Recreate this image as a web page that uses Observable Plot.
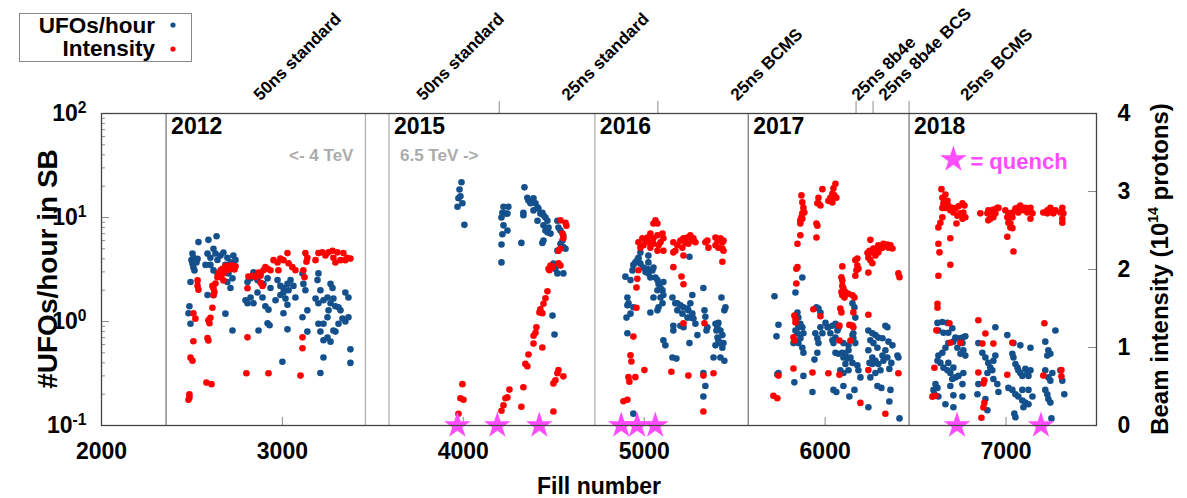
<!DOCTYPE html>
<html><head><meta charset="utf-8">
<script src="https://cdn.jsdelivr.net/npm/d3@7"></script>
<script src="https://cdn.jsdelivr.net/npm/@observablehq/plot@0.6"></script>
<style>html,body{margin:0;padding:0;background:#fff;} svg{display:block;}</style>
</head><body><div id="chart"></div>
<script>
// ---------------- data ----------------
const xTicks = [2000, 3000, 4000, 5000, 6000, 7000];
const yMajor = [0.1, 1, 10, 100];
const intTicks = [0, 1, 2, 3, 4];
const years = ["2012", "2015", "2016", "2017", "2018"];
const yearStart = [2357, 3589, 4727, 5575, 6464];
const yearLinesDark = [2357, 5575, 6464];
const yearLinesLight = [3459, 3589, 4727];
const beamChanges = [4199, 5075, 6171, 6265, 6464];
const beamNames = ["50ns standard", "50ns standard", "25ns standard", "25ns BCMS", "25ns 8b4e", "25ns 8b4e BCS", "25ns BCMS"];
const beamLabelFill = [2879, 3780, 4581, 5515, 6184, 6333, 6786];
const quenchFills = [3967, 4188, 4420, 4873, 4961, 5061, 6729, 7193];

// UFOs/hour [fill, rate]
const ufo2012 = [[2536,5.8],[2591,6.1],[2636,6.6],[2503,4.5],[2508,4.1],[2497,3.9],[2503,3.6],[2508,3.3],[2531,4.0],[2514,3.1],[2525,3.7],
[2586,4.5],[2602,4.1],[2619,5.0],[2630,4.5],[2641,3.9],[2658,4.3],[2674,4.6],[2696,4.1],[2713,3.7],[2729,4.3],[2741,3.9],[2602,3.5],[2619,3.1],[2641,2.9],[2575,3.5],[2685,3.5],[2702,2.9],[2724,2.6],[2713,2.1],[2696,2.4],[2586,1.8],[2619,1.8],[2492,2.4],[2486,1.4],[2481,1.2],[2492,0.95],[2685,1.19],[2724,0.82],
[2807,2.4],[2824,2.6],[2840,2.97],[2862,2.5],[2879,2.9],[2895,2.3],[2918,2.6],[2934,2.1],
[2796,1.6],[2807,1.5],[2824,1.7],[2840,1.5],[2862,1.9],[2890,1.7],[2906,1.4],[2923,1.3],[2962,1.6],[2918,0.96],[2929,0.92],[2868,0.82],
[2973,2.5],[2989,2.2],[3006,2.1],[3028,2.3],[3034,2.0],[3017,1.66],[3045,2.5],[3061,2.2],[3072,1.7],[3006,1.9],[2989,1.8],[3000,0.41],[3028,0.84],[3006,1.2],[3028,1.45],
[3111,2.9],[3116,2.3],[3127,2.0],[3138,1.28],[3111,1.1],[3138,0.8],
[3194,2.5],[3199,2.9],[3210,2.0],[3183,1.66],[3199,1.5],[3227,1.6],[3249,1.7],[3266,1.5],[3282,1.66],[3293,1.4],[3310,1.37],[3255,1.28],[3249,1.1],[3227,0.95],[3199,0.95],[3210,0.8],[3227,0.66],[3249,0.7],[3266,0.64],[3282,0.82],[3293,0.8],[3310,0.95],[3348,1.0],[3365,1.1],[3348,1.9],[3365,1.7],[3277,2.1],[3266,2.3],[3210,0.32],[3227,0.45],[3376,0.54],[3376,0.4],[3321,1.28],[3332,1.07]];
const ufo2015 = [[3990,21.8],[3979,18.6],[3984,16.0],[3973,15.3],[3995,13.7],[3968,12.7],[4006,8.5],
[4222,12.7],[4249,12.7],[4216,11.1],[4233,10.9],[4244,10.9],[4211,10.0],[4222,8.4],[4244,7.5],[4216,6.9],[4211,5.5],[4211,3.7],[4338,19.5],
[4354,15.5],[4360,14.6],[4371,13.7],[4382,14.0],[4388,15.3],[4399,13.7],[4410,12.5],[4388,11.7],[4415,12.2],[4426,10.9],[4437,11.1],[4443,10.5],[4454,10.0],[4465,9.3],[4443,8.4],[4454,7.5],[4465,7.2],[4471,8.0],[4482,7.0],[4437,5.7],[4443,6.0],[4410,9.3],[4332,11.1],[4332,10.5],[4321,5.7],
[4520,9.3],[4526,8.0],[4537,7.5],[4553,6.7],[4548,6.0],[4537,5.6],[4553,5.2],[4565,5.0],[4520,4.8],[4498,3.6],[4509,3.2],[4520,2.9],[4553,2.9],[4493,1.14],[4504,0.75]];
const ufo2016 = [[4896,2.7],[4924,2.5],[4935,3.1],[4940,3.5],[4951,3.7],[4962,3.9],[4968,4.1],[4979,3.6],[4996,3.3],[5007,3.0],[5018,3.2],[5023,2.9],[5034,2.65],[5045,3.1],[5051,3.3],[5062,2.65],[5073,2.5],[5079,2.3],[5090,2.1],[5101,2.0],[5106,2.4],[5073,2.0],[5051,1.7],[5090,1.7],[5101,1.5],[5106,1.8],[5079,1.37],[5073,1.28],[5034,1.22],[4979,4.6],[4968,4.0],[5023,4.3],[5023,3.7],[4907,1.7],[4913,1.5],[4907,1.43],[4924,1.19],[4902,1.09],[4907,0.77],[4940,1.37],
[5156,1.7],[5172,1.5],[5183,1.5],[5200,1.43],[5217,1.37],[5239,1.33],[5255,1.5],[5266,1.8],[5244,1.28],[5255,1.09],[5266,1.19],[5272,1.07],[5283,0.95],[5239,1.09],[5211,1.19],[5183,1.28],[5161,0.91],[5161,0.82],[5200,0.91],[5217,0.88],[5250,4.2],[5327,2.1],[5333,1.28],[5338,1.11],[5349,0.88],[5344,0.82],[5250,0.62],[5294,0.74],[5106,0.66],[5117,0.59],[5156,0.45],[5178,0.44],[5327,0.32],[5338,0.24],[5327,0.19],[4940,0.13],
[5394,0.95],[5405,0.88],[5410,0.97],[5421,0.82],[5432,0.74],[5405,0.70],[5410,0.66],[5421,0.62],[5432,0.56],[5438,0.62],[5394,0.59],[5399,0.82],[5427,1.7],[5449,1.37],[5443,1.28],[5383,0.45],[5421,0.45],[5443,0.42]];
const ufo2017 = [[5720,1.75],[5742,0.93],[5731,0.72],[5742,0.32],[5736,0.31],[5830,0.26],[5880,0.30],[5930,0.21],[5836,1.9],[5874,2.65],
[5847,1.22],[5852,1.09],[5863,0.95],[5852,0.88],[5836,0.82],[5847,0.77],[5863,0.69],[5852,0.62],[5874,0.56],[5880,0.50],[5825,0.62],[5880,0.77],[5874,0.88],[5941,0.43],
[5946,0.77],[5957,0.69],[5963,0.62],[5974,0.88],[5985,0.77],[5952,1.37],[5963,1.33],[5974,1.22],[5957,0.50],[6002,0.97],[6013,0.88],
[6018,0.88],[6029,0.77],[6040,0.66],[6046,0.62],[6057,0.70],[6068,0.82],[6040,0.91],[6057,0.95],[6073,0.86],
[6057,0.50],[6073,0.49],[6095,0.50],[6112,0.49],[6129,0.53],[6101,0.45],[6123,0.44],[6140,0.45],[6151,0.40],[6112,0.39],[6084,0.34],[6101,0.32],[6129,0.34],[6156,0.77],[6151,0.74],[6156,0.69],[6167,0.62],[6129,0.59],[6101,0.62],[6167,1.09],[6162,1.37],[6151,1.5],
[6046,0.22],[6062,0.21],[6101,0.24],[6162,0.22],[6134,0.19],[6178,0.38],[6184,0.34],[6195,0.29],
[6239,0.82],[6261,0.77],[6278,0.74],[6294,0.70],[6317,0.69],[6250,0.66],[6267,0.62],[6289,0.56],[6239,0.53],[6261,0.45],[6278,0.42],[6294,0.39],[6317,0.47],[6322,0.42],[6306,0.34],[6278,0.32],[6261,0.39],[6245,0.40],[6333,0.91],[6344,0.88],[6350,0.64],[6372,0.59],[6333,0.53],[6344,0.45],[6355,0.35],[6366,0.40],[6400,0.47],[6405,0.45],[6311,0.23],[6289,0.24],[6250,0.29],[6239,0.15],[6355,0.17],[6411,0.117],[6361,0.22]];
const ufo2018 = [[6621,0.97],[6648,0.99],[6676,0.97],[6626,0.82],[6654,0.78],[6681,0.78],[6703,0.86],[6720,0.70],[6737,0.69],[6759,0.70],[6775,0.72],[6759,0.62],[6764,0.53],[6748,0.49],[6775,0.47],[6731,0.56],[6709,0.64],[6681,0.62],
[6621,0.42],[6626,0.47],[6648,0.50],[6665,0.56],[6637,0.40],[6654,0.36],[6676,0.34],[6692,0.32],[6703,0.28],[6720,0.29],[6737,0.30],[6759,0.25],[6681,0.40],[6709,0.36],[6764,0.32],
[6610,0.25],[6621,0.23],[6599,0.22],[6604,0.20],[6626,0.19],[6665,0.16],[6709,0.15],[6692,0.24],[6709,0.195],[6759,0.19],
[6847,0.62],[6869,0.50],[6886,0.45],[6902,0.40],[6913,0.36],[6930,0.42],[6941,0.47],[6924,0.34],[6897,0.32],[6930,0.28],[6952,0.25],[6847,0.25],[6842,0.20],[6886,0.18],[6897,0.14],[6958,0.21],[6941,0.88],
[7007,0.74],[7035,0.49],[7041,0.45],[7052,0.39],[7063,0.36],[7068,0.34],[7079,0.32],[7090,0.30],[7107,0.35],[7118,0.32],[7124,0.30],[7135,0.34],[7041,0.62],[7079,0.59],[7135,0.56],[7013,0.23],[7035,0.22],[7052,0.20],[7068,0.19],[7090,0.174],[7107,0.166],[7124,0.16],[7096,0.15],[7090,0.22],[7124,0.22],[7146,0.19],[7046,0.13],[7052,0.12],
[7217,0.64],[7234,0.53],[7245,0.49],[7228,0.47],[7217,0.34],[7234,0.29],[7245,0.27],[7273,0.82],[7256,0.32],[7311,0.27],[7300,0.34],[7322,0.20],[7217,0.22],[7228,0.20],[7234,0.18],[7245,0.166],[7251,0.117]];

// Beam intensity [fill, 1e14 protons]
const int2012 = [[2486,0.36],[2481,0.33],[2486,0.4],[2492,0.87],[2503,0.83],[2508,1.08],[2586,1.12],[2591,1.09],[2591,1.35],[2597,1.31],[2602,1.38],[2508,1.44],[2519,1.37],[2531,1.86],[2531,1.79],[2536,1.74],[2613,1.51],[2619,1.76],[2624,1.71],[2619,1.67],
[2641,1.9],[2647,1.95],[2658,1.99],[2669,2.01],[2674,1.95],[2685,2.04],[2696,1.99],[2702,2.05],[2713,2.01],[2724,2.05],[2735,2.0],[2741,2.04],[2658,1.9],[2674,1.86],[2630,1.82],[2613,1.79],
[2580,0.55],[2608,0.53],[2807,1.13],[2801,0.67],[2923,0.67],[3100,0.64],[3111,1.13],[3111,0.99],[2807,1.76],
[2812,1.91],[2834,1.92],[2851,1.9],[2868,1.96],[2879,1.92],[2895,1.99],[2906,2.03],[2918,2.01],[2934,1.99],[2879,1.83],[2890,1.79],
[2951,2.12],[2973,2.09],[2978,1.99],[2989,2.14],[3006,2.12],[3028,2.21],[3034,2.08],[3055,2.03],[3072,1.99],
[3116,1.99],[3122,1.9],[3127,2.21],[3138,2.15],[3133,2.1],
[3183,2.12],[3199,2.21],[3221,2.22],[3238,2.18],[3255,2.22],[3277,2.24],[3282,2.15],[3304,2.22],[3321,2.12],[3337,2.21],[3359,2.15],[3376,2.14],[3293,2.09],[3348,2.12]];
const int2015 = [[3995,0.53],[3984,0.35],[4001,0.33],[3973,0.15],[4255,0.46],[4244,0.36],[4233,0.35],[4222,0.26],[4211,0.19],[4321,0.24],[4332,0.49],[4343,0.79],[4354,0.76],[4360,0.91],[4388,1.05],[4388,1.15],[4399,1.19],[4404,1.26],[4437,1.0],[4421,1.45],[4426,1.49],[4437,1.44],[4443,1.56],[4454,1.63],[4465,1.72],[4476,1.99],[4493,2.03],[4482,2.05],[4471,2.01],[4526,2.08],[4537,2.05],[4498,0.54],[4509,0.58],[4520,0.67],[4526,0.71],[4553,0.63],[4498,0.18],[4526,2.24],[4537,2.27],[4548,2.46],[4553,2.4],[4537,2.63],[4565,2.6],[4570,2.56]];
const int2016 = [[5062,2.63],[5051,2.59],[5073,2.59],[5034,2.46],[5018,2.41],[5051,2.4],[5073,2.44],[5101,2.46],[5106,2.4],[5090,2.35],[5079,2.31],[5051,2.33],[5023,2.35],[5007,2.37],[4996,2.31],[4979,2.28],[4990,2.4],[4968,2.35],[5034,2.28],[5073,2.24],[5106,2.24],
[5161,2.35],[5172,2.24],[5183,2.31],[5200,2.37],[5217,2.4],[5228,2.35],[5239,2.41],[5255,2.44],[5266,2.37],[5272,2.4],[5283,2.35],[5244,2.33],[5211,2.28],[5161,2.22],[5217,2.18],
[5338,2.35],[5349,2.37],[5355,2.28],[5394,2.41],[5405,2.37],[5421,2.4],[5432,2.35],[5438,2.37],[5438,2.24],[5410,2.28],[5432,2.27],[5394,2.31],[5432,2.1],
[4968,1.99],[4962,1.88],[4957,1.77],[5161,2.03],[5206,1.91],[5217,1.81],[4957,1.51],[5217,1.31],[5333,1.31],[4940,1.14],[4924,0.9],[4929,0.82],[4913,0.62],[4918,0.56],[4951,0.62],[5001,0.71],[5150,0.69],[5244,0.64],[5327,0.64],[5383,0.67],[4885,0.31],[4907,0.33],[5327,0.18]];
const int2017 = [[5869,2.95],[5874,2.86],[5880,2.79],[5874,2.72],[5869,2.67],[5863,2.63],[5863,2.59],[5874,2.65],[5885,2.73],[5863,2.44],[5847,2.33],[5847,2.03],[5841,2.01],[5841,1.82],
[5985,3.03],[5963,2.92],[5963,2.85],[5974,2.82],[5957,2.85],[5952,2.59],[5957,2.56],[5952,2.41],
[6057,3.1],[6046,3.04],[6040,2.97],[6029,2.92],[6018,2.88],[6040,2.86],[6051,2.95],[6062,2.92],
[6095,2.04],[6090,1.9],[6095,1.86],[6095,1.79],[6101,1.76],[6090,1.71],[6112,1.71],[6129,1.69],[6151,1.67],[6162,1.64],[6107,1.64],[6095,1.67],
[6167,2.12],[6178,2.05],[6184,2.01],[6173,1.99],[6178,2.14],[6167,1.92],
[6234,2.21],[6239,2.15],[6250,2.12],[6261,2.08],[6245,2.24],[6256,2.22],[6267,2.27],[6278,2.24],[6289,2.28],[6294,2.31],[6306,2.27],[6317,2.28],[6322,2.33],[6333,2.31],[6344,2.32],[6350,2.28],[6361,2.31],[6372,2.27],[6278,2.18],[6294,2.22],[6239,1.96],[6250,2.38],
[6405,1.95],[6411,1.9],
[5830,1.41],[5836,1.37],[5836,1.32],[5825,1.13],[5830,1.09],[5714,0.38],[5736,0.35],[5742,0.64],[5825,0.73],[5935,1.49],[5974,1.4],[5930,0.68],[6018,0.67],[6079,1.28],[6079,1.09],[6079,0.65],[6084,1.5],[6090,1.45],[6134,1.29],[6151,1.28],[6156,1.26],[6140,1.09],[6156,1.45],[6239,1.42],[6239,0.71],[6195,0.29],[6333,0.15],[6405,0.67]];
const int2018 = [[6643,3.03],[6648,2.92],[6665,2.96],[6676,2.88],[6648,2.79],[6654,2.85],[6681,2.82],[6703,2.79],[6720,2.78],[6737,2.81],[6759,2.85],[6770,2.82],[6764,2.73],[6748,2.72],[6731,2.69],[6709,2.73],[6692,2.76],[6665,2.79],[6775,2.67],[6759,2.65],[6648,2.67],[6637,2.6],[6626,2.54],[6726,2.59],[6692,2.4],[6626,2.33],[6632,2.22],[6692,2.06],[6626,1.92],[6621,1.56],[6621,1.51],
[6858,2.72],[6897,2.72],[6902,2.76],[6924,2.73],[6930,2.77],[6941,2.72],[6952,2.79],[6958,2.79],[6913,2.65],[6902,2.63],[6930,2.67],
[6996,2.76],[7007,2.67],[7013,2.6],[7024,2.59],[7035,2.73],[7052,2.78],[7063,2.79],[7068,2.73],[7079,2.82],[7090,2.78],[7096,2.76],[7107,2.79],[7118,2.73],[7124,2.76],[7135,2.79],[7146,2.72],[7135,2.65],[7035,2.67],[7013,2.72],[7024,2.54],[7035,2.53],[7007,2.42],[7041,2.23],
[7206,2.73],[7228,2.76],[7245,2.79],[7256,2.73],[7273,2.76],[7300,2.73],[7311,2.79],[7317,2.72],[7311,2.65],[7311,2.6],[7228,2.72],[7262,2.72],
[6615,1.22],[6604,0.74],[6610,0.38],[6593,0.37],[6687,1.31],[6692,1.06],[6748,1.06],[6847,1.35],[6886,1.18],[6869,1.05],[6930,1.05],[6847,0.68],[6880,0.58],[6875,0.54],[6880,0.29],[6875,0.23],[6864,0.1],[7035,1.06],[7007,0.65],[7212,1.31],[7206,0.64],[7306,0.71],[7306,0.63]];

// ---------------- drawing ----------------
const ufos = [...ufo2012, ...ufo2015, ...ufo2016, ...ufo2017, ...ufo2018];
const intensity = [...int2012, ...int2015, ...int2016, ...int2017, ...int2018];
const yearTable = years.map((y, i) => ({year: y, fill: yearStart[i]}));
const beamTable = beamNames.map((n, i) => ({label: n, fill: beamLabelFill[i]}));
const yMinor = [];
for (const d of [0.1, 1, 10]) for (let k = 2; k <= 9; k++) yMinor.push(+(d * k).toPrecision(3));

const W = 1187, H = 498, mL = 101, mR = 91, mT = 113, mB = 73;
const frameW = W - mL - mR, frameH = H - mT - mB;
// right axis (intensity 0..4) mapped onto the log axis (0.1..100)
const toY = I => 0.1 * Math.pow(10, I * 3 / 4);
const FONT = "'Liberation Sans', Arial, Helvetica, sans-serif";
const BLUE = "#14508c", RED = "#ff0000", MAGENTA = "#ff4cff", TICK = "#8c8c8c";

const plot = Plot.plot({
  width: W, height: H,
  marginLeft: mL, marginRight: mR, marginTop: mT, marginBottom: mB,
  style: {fontFamily: FONT, background: "#fff", color: "#000"},
  x: {domain: [2000, 7500], axis: null},
  y: {type: "log", domain: [0.1, 100], axis: null},
  marks: [
    Plot.ruleX(yearLinesLight, {x: d => d, stroke: "#b0b0b0", strokeWidth: 1.3}),
    Plot.ruleX(yearLinesDark, {x: d => d, stroke: "#7a7a7a", strokeWidth: 1.3}),
    Plot.axisX({anchor: "top", ticks: beamChanges, tickSize: 13, tickFormat: () => "", stroke: "#a8a8a8", strokeWidth: 1.3, label: null}),
    Plot.tickX(xTicks, {x: d => d, insetTop: frameH - 8, stroke: TICK}),
    Plot.tickY(yMajor, {y: d => d, insetRight: frameW - 8, stroke: TICK}),
    Plot.tickY(yMinor, {y: d => d, insetRight: frameW - 4, stroke: TICK}),
    Plot.tickY(intTicks, {y: d => toY(d), insetLeft: frameW - 8, stroke: TICK}),
    Plot.axisX({anchor: "bottom", ticks: xTicks, tickSize: 0, tickPadding: 17, tickFormat: d => String(d), fontSize: 23, fontWeight: "bold", fill: "#000", label: null}),
    Plot.axisY({anchor: "left", ticks: yMajor, tickSize: 0, tickPadding: 15, tickFormat: d => "10^" + Math.round(Math.log10(d)), fontSize: 23, fontWeight: "bold", fill: "#000", label: null}),
    Plot.text(intTicks, {y: d => toY(d), text: d => String(d), frameAnchor: "right", textAnchor: "start", dx: 21, fontSize: 23, fontWeight: "bold", fill: "#000"}),
    Plot.dot(ufos, {x: d => d[0], y: d => d[1], r: 3.3, fill: BLUE}),
    Plot.dot(intensity, {x: d => d[0], y: d => toY(d[1]), r: 3.3, fill: RED}),
    Plot.dot(quenchFills, {x: d => d, frameAnchor: "bottom", symbol: "star", r: 8.4, fill: MAGENTA}),
    Plot.frame({stroke: "#444", strokeWidth: 1.3}),
    Plot.text(yearTable, {x: "fill", text: "year", frameAnchor: "top", textAnchor: "start", lineAnchor: "bottom", dx: 5, dy: 20, fontSize: 23, fontWeight: "bold", fill: "#000"}),
    Plot.text([3459], {x: d => d, text: () => "<- 4 TeV", frameAnchor: "top", textAnchor: "end", lineAnchor: "bottom", dx: -12, dy: 47, fontSize: 17, fontWeight: "bold", fill: "#ababab"}),
    Plot.text([3589], {x: d => d, text: () => "6.5 TeV ->", frameAnchor: "top", textAnchor: "start", lineAnchor: "bottom", dx: 11, dy: 47, fontSize: 17, fontWeight: "bold", fill: "#ababab"}),
    Plot.dot([6709], {x: d => d, frameAnchor: "top", dy: 46, symbol: "star", r: 8.4, fill: MAGENTA}),
    Plot.text([6709], {x: d => d, text: () => "= quench", frameAnchor: "top", textAnchor: "start", lineAnchor: "bottom", dx: 17, dy: 55, fontSize: 22, fontWeight: "bold", fill: MAGENTA}),
    Plot.text(beamTable, {x: "fill", text: "label", frameAnchor: "top", textAnchor: "start", lineAnchor: "bottom", rotate: -45, dy: -12, fontSize: 17, fontWeight: "bold", fill: "#000"}),
    Plot.text(["Fill number"], {text: d => d, frameAnchor: "bottom", lineAnchor: "bottom", dy: 68, fontSize: 23, fontWeight: "bold", fill: "#000"})
  ]
});

const svg = d3.select(plot);
// superscript exponents on the left tick labels
svg.selectAll("text").each(function () {
  const m = /^10\^(-?\d+)$/.exec(this.textContent);
  if (m) {
    const t = d3.select(this);
    t.text("10");
    t.append("tspan").attr("dy", "-0.5em").attr("font-size", "0.68em").text(m[1]);
  }
});
// axis titles
svg.append("text")
  .attr("transform", `translate(47,${mT + frameH / 2}) rotate(-90)`)
  .attr("text-anchor", "middle").attr("dy", "0.35em")
  .attr("font-size", 28).attr("font-weight", "bold").attr("fill", "#000")
  .text("#UFOs/hour in SB");
const rt = svg.append("text")
  .attr("transform", `translate(1160,${mT + frameH / 2}) rotate(-90)`)
  .attr("text-anchor", "middle").attr("dy", "0.35em")
  .attr("font-size", 24).attr("font-weight", "bold").attr("fill", "#000");
rt.append("tspan").text("Beam intensity (10");
rt.append("tspan").attr("dy", -10).attr("font-size", 14).text("14");
rt.append("tspan").attr("dy", 10).text(" protons)");
// legend
const lg = svg.append("g");
lg.append("rect").attr("x", 19.5).attr("y", 13.5).attr("width", 172).attr("height", 48)
  .attr("fill", "#fff").attr("stroke", "#888").attr("stroke-width", 1);
const legendItems = [["UFOs/hour", BLUE, 33, 25], ["Intensity", RED, 56, 49]];
for (const [label, color, ty, cy] of legendItems) {
  lg.append("text").attr("x", 155).attr("y", ty).attr("text-anchor", "end")
    .attr("font-size", 22.5).attr("font-weight", "bold").attr("fill", "#000").text(label);
  lg.append("circle").attr("cx", 173).attr("cy", cy).attr("r", 2.6).attr("fill", color);
}
document.getElementById("chart").appendChild(plot);
</script>
</body></html>
